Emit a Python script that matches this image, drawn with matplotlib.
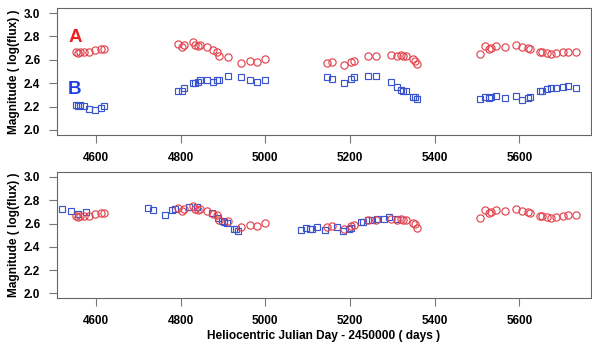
#!/usr/bin/env python3
"""Light curves of images A and B, raw (top) and B shifted by the time delay (bottom)."""

import numpy as np
import matplotlib
matplotlib.use('Agg')
import matplotlib.pyplot as plt

# observation epochs (HJD - 2450000), shared by both images
hjd = [4553, 4557, 4562, 4571, 4584, 4597, 4613, 4619,
       4793, 4802, 4809, 4828, 4834, 4840, 4846, 4863, 4877, 4885, 4891, 4911,
       4942, 4964, 4981, 4999,
       5145, 5158, 5186, 5202, 5210, 5242, 5262, 5297, 5312, 5321, 5326, 5332,
       5348, 5354, 5359,
       5507, 5519, 5528, 5533, 5545, 5565, 5592, 5606, 5620, 5625, 5649, 5654,
       5665, 5675, 5686, 5703, 5714, 5734]

mag_a = [2.663, 2.657, 2.666, 2.666, 2.663, 2.680, 2.690, 2.690,
         2.734, 2.706, 2.729, 2.749, 2.723, 2.720, 2.729, 2.706, 2.686, 2.671,
         2.634, 2.620, 2.571, 2.586, 2.577, 2.606,
         2.571, 2.577, 2.557, 2.577, 2.586, 2.629, 2.629, 2.643, 2.634, 2.637,
         2.634, 2.629, 2.606, 2.594, 2.563,
         2.651, 2.714, 2.691, 2.700, 2.714, 2.706, 2.729, 2.709, 2.700, 2.694,
         2.663, 2.663, 2.657, 2.649, 2.657, 2.663, 2.671, 2.671]

mag_b = [2.214, 2.209, 2.214, 2.206, 2.177, 2.171, 2.186, 2.206,
         2.337, 2.337, 2.357, 2.400, 2.400, 2.406, 2.423, 2.429, 2.414, 2.423,
         2.423, 2.463, 2.451, 2.429, 2.406, 2.423,
         2.457, 2.437, 2.400, 2.437, 2.449, 2.463, 2.463, 2.414, 2.371, 2.343,
         2.337, 2.329, 2.280, 2.280, 2.263,
         2.266, 2.286, 2.277, 2.280, 2.291, 2.272, 2.291, 2.257, 2.277, 2.286,
         2.334, 2.337, 2.351, 2.357, 2.363, 2.366, 2.380, 2.363]

# time delay and magnitude offset applied to B in the lower panel
delay = 423
offset = 0.275

xticks = [4600, 4800, 5000, 5200, 5400, 5600]
yticks = [2.0, 2.2, 2.4, 2.6, 2.8, 3.0]

red = '#e2454f'
blue = '#3a54cc'
font = ['Liberation Sans', 'DejaVu Sans']

fig = plt.figure(figsize=(5.92, 3.42), dpi=100)
ax_top = fig.add_axes([0.0963, 0.6053, 0.902, 0.3713])
ax_bot = fig.add_axes([0.0963, 0.1278, 0.902, 0.3693])

t = np.array(hjd)
a = np.array(mag_a)
b = np.array(mag_b)

mk = dict(linestyle='none', markerfacecolor='none', markeredgewidth=0.85)

ax_top.plot(t, a, marker='o', color=red, markersize=5.2, **mk)
ax_top.plot(t, b, marker='s', color=blue, markersize=4.8, **mk)
ax_top.text(4550, 2.795, 'A', color='#ee2020', fontsize=13.5, fontweight='bold',
            ha='center', va='center', family=font)
ax_top.text(4549, 2.342, 'B', color='#1f3fe6', fontsize=13.5, fontweight='bold',
            ha='center', va='center', family=font)

ax_bot.plot(t - delay, b + offset, marker='s', color=blue, markersize=4.8, **mk)
ax_bot.plot(t, a, marker='o', color=red, markersize=5.2, **mk)

for ax in (ax_top, ax_bot):
    ax.set_xlim(4508, 5769)
    ax.set_ylim(1.957, 3.043)
    ax.set_xticks(xticks)
    ax.set_yticks(yticks)
    ax.set_yticklabels(['%.1f' % v for v in yticks])
    ax.tick_params(direction='out', length=6, width=0.8, color='#777777',
                   labelsize=8.5, pad=6)
    for lab in ax.get_xticklabels() + ax.get_yticklabels():
        lab.set_fontweight('bold')
        lab.set_family(font)
    for sp in ax.spines.values():
        sp.set_color('#666666')
        sp.set_linewidth(0.8)
    ax.set_ylabel('Magnitude ( log(flux) )', fontsize=8.6, fontweight='bold',
                  family=font, labelpad=3)

ax_bot.set_xlabel('Heliocentric Julian Day - 2450000 ( days )', fontsize=8.6,
                  fontweight='bold', family=font, labelpad=2)

fig.savefig('out.png', dpi=100)
